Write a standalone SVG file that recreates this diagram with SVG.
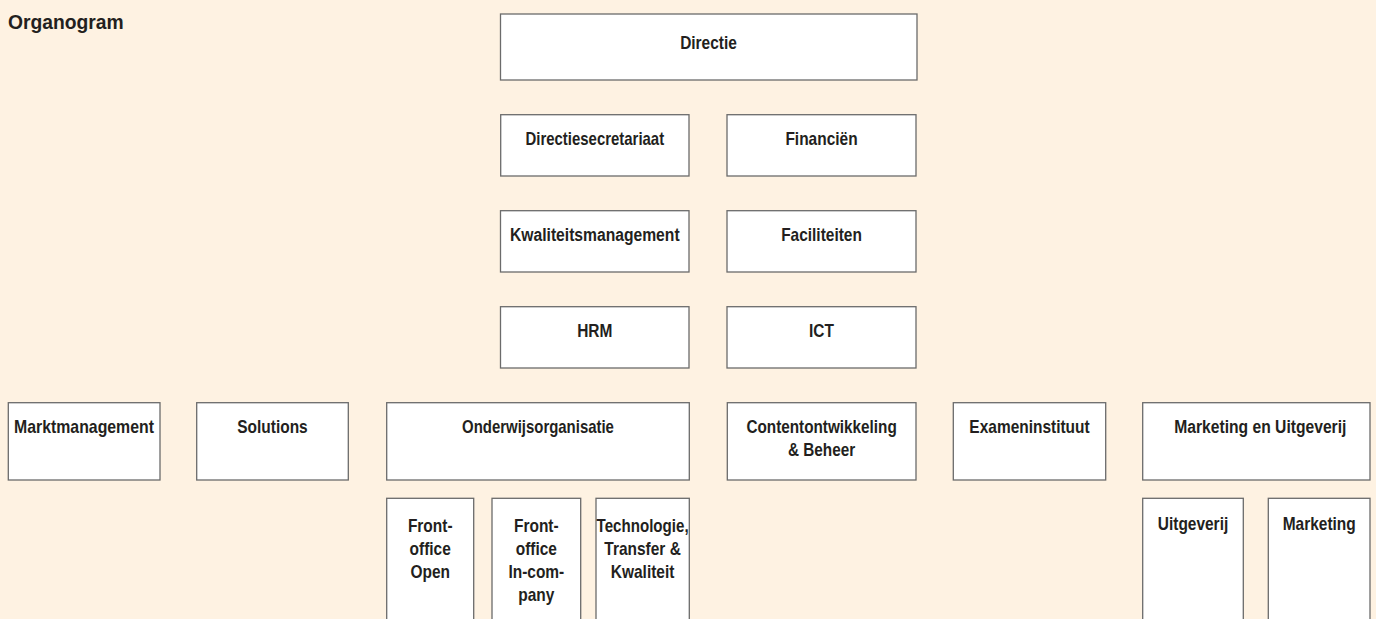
<svg xmlns="http://www.w3.org/2000/svg" width="1376" height="619" viewBox="0 0 1376 619">
<style>
.bg{fill:#fef2e2}
.box{fill:#ffffff;stroke:#6b6b6b;stroke-width:1.3}
.t{font-family:"Liberation Sans",Arial,sans-serif;font-weight:bold;font-size:18px;fill:#231f20;text-anchor:middle}
.title{font-family:"Liberation Sans",Arial,sans-serif;font-weight:bold;font-size:19.3px;fill:#231f20}
</style>
<rect class="bg" x="0" y="0" width="1376" height="619"/>
<text class="title" x="8" y="28.5">Organogram</text>
<g id="connectors"></g>
<g id="directie"><rect class="box" x="500.5" y="14" width="416.5" height="66"/><text class="t" transform="matrix(0.86 0 0 1 708.5 49)">Directie</text></g>
<g id="directiesecretariaat"><rect class="box" x="500.7" y="114.7" width="188.3" height="61.3"/><text class="t" transform="matrix(0.83 0 0 1 594.8 145)">Directiesecretariaat</text></g>
<g id="financien"><rect class="box" x="727" y="114.7" width="189" height="61.3"/><text class="t" transform="matrix(0.86 0 0 1 821.5 145)">Financiën</text></g>
<g id="kwaliteitsmanagement"><rect class="box" x="500.5" y="210.7" width="188.5" height="61.3"/><text class="t" transform="matrix(0.87 0 0 1 594.8 241)">Kwaliteitsmanagement</text></g>
<g id="faciliteiten"><rect class="box" x="727" y="210.7" width="189" height="61.3"/><text class="t" transform="matrix(0.86 0 0 1 821.5 241)">Faciliteiten</text></g>
<g id="hrm"><rect class="box" x="500.5" y="306.7" width="188.5" height="61.3"/><text class="t" transform="matrix(0.86 0 0 1 594.8 337)">HRM</text></g>
<g id="ict"><rect class="box" x="727" y="306.7" width="189" height="61.3"/><text class="t" transform="matrix(0.86 0 0 1 821.5 337)">ICT</text></g>
<g id="marktmanagement"><rect class="box" x="8.3" y="402.7" width="151.7" height="77.3"/><text class="t" transform="matrix(0.88 0 0 1 84 432.7)">Marktmanagement</text></g>
<g id="solutions"><rect class="box" x="196.7" y="402.7" width="151.6" height="77.3"/><text class="t" transform="matrix(0.86 0 0 1 272.5 432.7)">Solutions</text></g>
<g id="onderwijsorganisatie"><rect class="box" x="386.7" y="402.7" width="302.6" height="77.3"/><text class="t" transform="matrix(0.83 0 0 1 538 432.7)">Onderwijsorganisatie</text></g>
<g id="contentontwikkeling"><rect class="box" x="727.3" y="402.7" width="188.7" height="77.3"/><text class="t" transform="matrix(0.85 0 0 1 821.6 432.7)">Contentontwikkeling</text><text class="t" transform="matrix(0.85 0 0 1 821.6 456.4)">&amp; Beheer</text></g>
<g id="exameninstituut"><rect class="box" x="953.3" y="402.7" width="152.4" height="77.3"/><text class="t" transform="matrix(0.86 0 0 1 1029.5 432.7)">Exameninstituut</text></g>
<g id="marketing-en-uitgeverij"><rect class="box" x="1142.7" y="402.7" width="227.3" height="77.3"/><text class="t" transform="matrix(0.87 0 0 1 1260.3 432.7)">Marketing en Uitgeverij</text></g>
<g id="frontoffice-open"><rect class="box" x="386.7" y="498.3" width="87" height="130"/><text class="t" transform="matrix(0.86 0 0 1 430.2 532)">Front-</text><text class="t" transform="matrix(0.86 0 0 1 430.2 555)">office</text><text class="t" transform="matrix(0.86 0 0 1 430.2 578)">Open</text></g>
<g id="frontoffice-incompany"><rect class="box" x="492" y="498.3" width="88.7" height="130"/><text class="t" transform="matrix(0.86 0 0 1 536.3 532)">Front-</text><text class="t" transform="matrix(0.86 0 0 1 536.3 555)">office</text><text class="t" transform="matrix(0.86 0 0 1 536.3 578)">In-com-</text><text class="t" transform="matrix(0.86 0 0 1 536.3 601)">pany</text></g>
<g id="technologie"><rect class="box" x="596" y="498.3" width="93.3" height="130"/><text class="t" transform="matrix(0.84 0 0 1 642.6 532)">Technologie,</text><text class="t" transform="matrix(0.86 0 0 1 642.6 555)">Transfer &amp;</text><text class="t" transform="matrix(0.86 0 0 1 642.6 578)">Kwaliteit</text></g>
<g id="uitgeverij"><rect class="box" x="1142.7" y="498.3" width="100.6" height="130"/><text class="t" transform="matrix(0.86 0 0 1 1193 530)">Uitgeverij</text></g>
<g id="marketing"><rect class="box" x="1268.3" y="498.3" width="101.7" height="130"/><text class="t" transform="matrix(0.86 0 0 1 1319.2 530)">Marketing</text></g>
</svg>
